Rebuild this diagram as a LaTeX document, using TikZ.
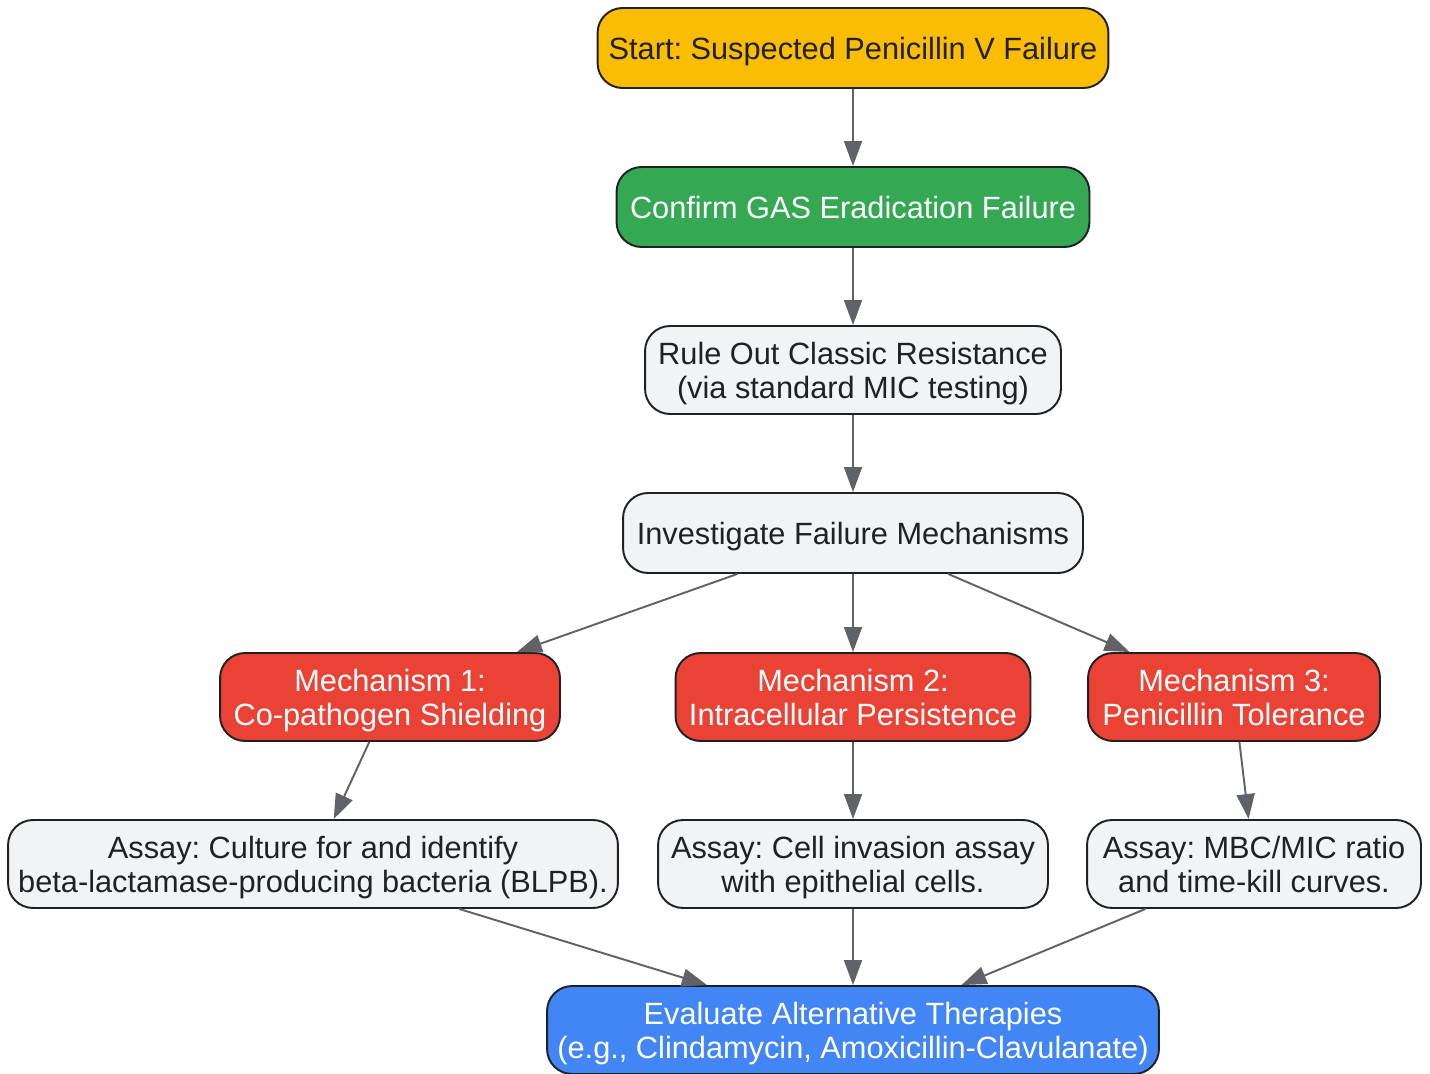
\documentclass[tikz,border=0pt]{standalone}
\usepackage{fontspec}
\setmainfont{Liberation Sans}
\frenchspacing
\usetikzlibrary{arrows.meta}
\definecolor{giallo}{HTML}{FBBC04}
\definecolor{verde}{HTML}{34A853}
\definecolor{grigio}{HTML}{F1F3F4}
\definecolor{rosso}{HTML}{EA4335}
\definecolor{blu}{HTML}{4285F4}
\definecolor{testo}{HTML}{202124}
\definecolor{freccia}{HTML}{5F6368}
\tikzset{
	box/.style={draw=testo, line width=1.1pt, rounded corners=0.5cm, align=center, inner sep=0pt,
		font=\fontsize{17.5}{19.5}\selectfont, text=testo, text depth=0pt, minimum height=1.6cm},
	alto/.style={minimum height=1.76cm},
	freccia/.style={draw=freccia, line width=1.1pt, -{Triangle[length=0.5cm,width=0.36cm]}}
}
\begin{document}
\begin{tikzpicture}[x=0.02cm,y=-0.02cm]
	\useasboundingbox (0,0) rectangle (1430,1074);
	\node[box, fill=giallo, minimum width=10.22cm] (start) at (853,48) {Start: Suspected Penicillin V Failure};
	\node[box, fill=verde, text=white, minimum width=9.46cm] (confirm) at (853,207) {Confirm GAS Eradication Failure};
	\node[box, alto, fill=grigio, minimum width=8.32cm] (ruleout) at (853,370) {Rule Out Classic Resistance\\(via standard MIC testing)};
	\node[box, fill=grigio, minimum width=9.2cm] (investigate) at (853,533) {Investigate Failure Mechanisms};
	\node[box, alto, fill=rosso, text=white, minimum width=6.8cm] (mech1) at (390,697) {Mechanism 1:\\Co-pathogen Shielding};
	\node[box, alto, fill=rosso, text=white, minimum width=7.1cm] (mech2) at (853,697) {Mechanism 2:\\Intracellular Persistence};
	\node[box, alto, fill=rosso, text=white, minimum width=5.84cm] (mech3) at (1234,697) {Mechanism 3:\\Penicillin Tolerance};
	\node[box, alto, fill=grigio, minimum width=12.2cm] (assay1) at (313,864) {Assay: Culture for and identify\\beta-lactamase-producing bacteria (BLPB).};
	\node[box, alto, fill=grigio, minimum width=7.8cm] (assay2) at (853,864) {Assay: Cell invasion assay\\with epithelial cells.};
	\node[box, alto, fill=grigio, minimum width=6.68cm] (assay3) at (1254,864) {Assay: MBC/MIC ratio\\and time-kill curves.};
	\node[box, alto, fill=blu, text=white, minimum width=12.24cm] (evaluate) at (853,1030) {Evaluate Alternative Therapies\\(e.g., Clindamycin, Amoxicillin-Clavulanate)};
	% frecce
	\draw[freccia] (start) -- (confirm);
	\draw[freccia] (confirm) -- (ruleout);
	\draw[freccia] (ruleout) -- (investigate);
	\draw[freccia] (investigate) -- (mech1);
	\draw[freccia] (investigate) -- (mech2);
	\draw[freccia] (investigate) -- (mech3);
	\draw[freccia] (mech1) -- (assay1);
	\draw[freccia] (mech2) -- (assay2);
	\draw[freccia] (mech3) -- (assay3);
	\draw[freccia] (assay1) -- (evaluate);
	\draw[freccia] (assay2) -- (evaluate);
	\draw[freccia] (assay3) -- (evaluate);
\end{tikzpicture}
\end{document}
